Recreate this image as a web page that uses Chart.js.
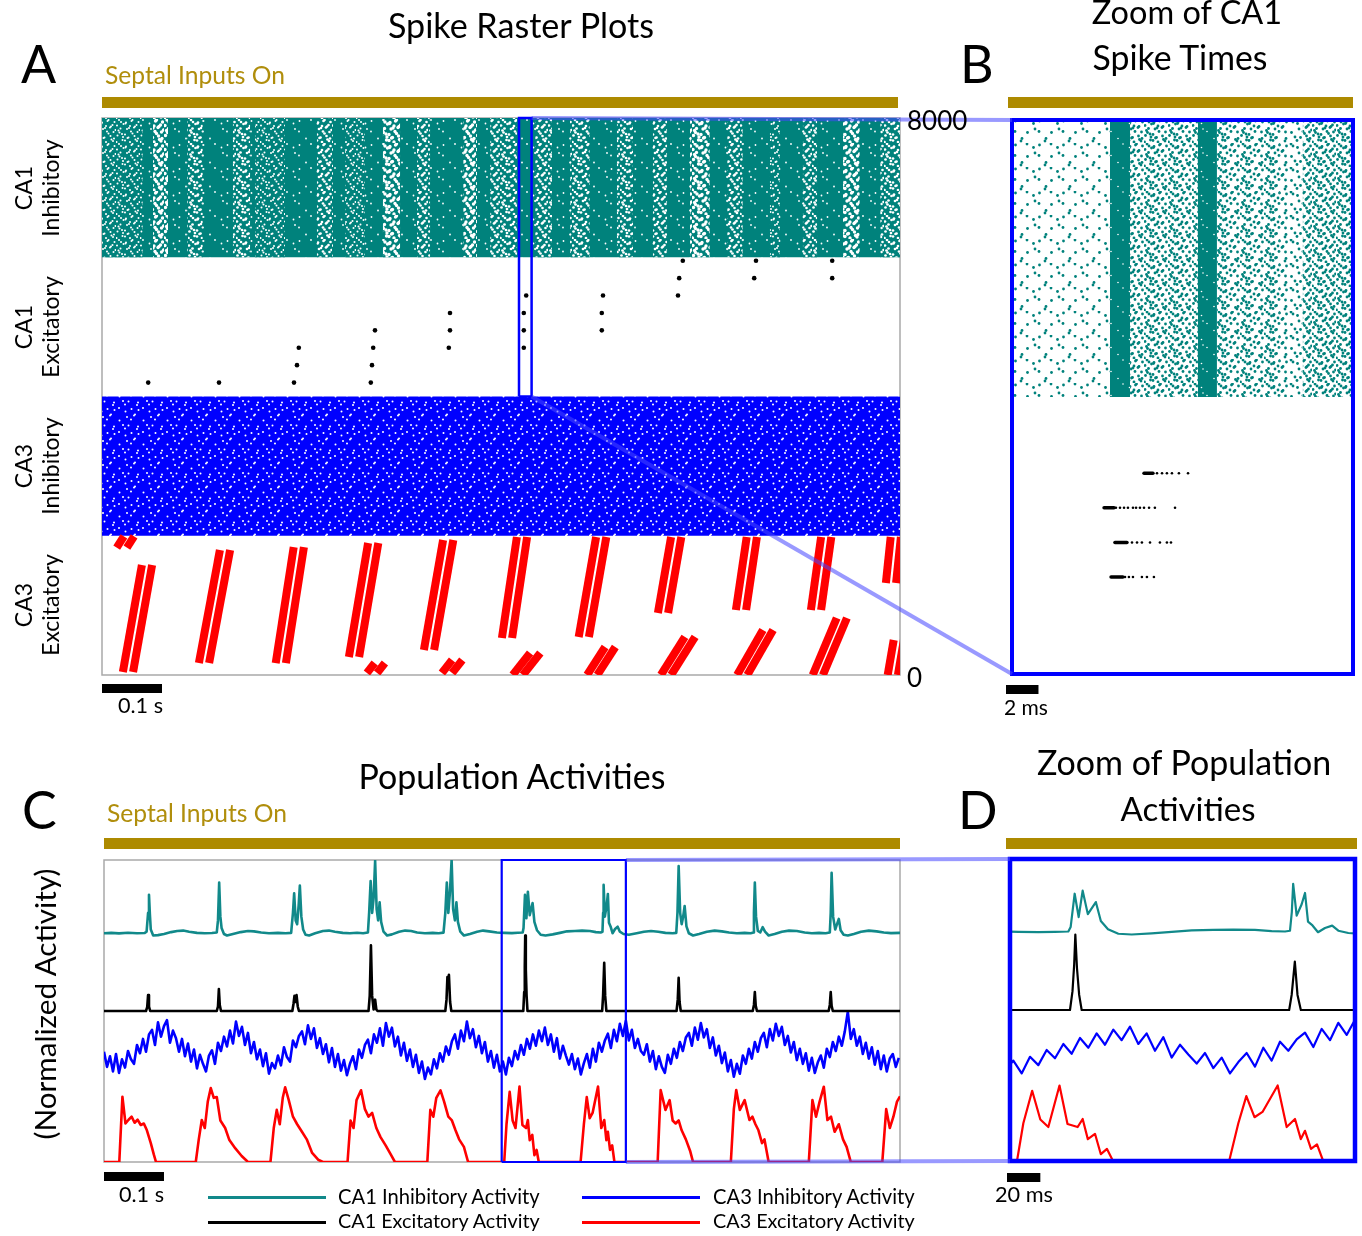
<!DOCTYPE html>
<html>
<head>
<meta charset="utf-8">
<title>Spike Raster Plots and Population Activities</title>
<script src="https://cdn.jsdelivr.net/npm/chart.js@4.4.1/dist/chart.umd.min.js"></script>
<style>
html,body{margin:0;padding:0;background:#fff;}
#page{position:relative;width:1362px;height:1236px;overflow:hidden;font-family:Lato,"Open Sans",sans-serif;}
#page canvas{position:absolute;}
.t{position:absolute;white-space:nowrap;font-family:Lato,"Open Sans",sans-serif;}
</style>
</head>
<body>
<div id="page"></div>
<script>
// ================= DATA =================
// ---- Panel A : spike raster (time in s, neuron index) ----
const rasterTimeRange = [0, 1.33];
const rasterNeuronRange = [0, 8000];
const rasterTickValues = [0, 8000];
const groupNames = [['CA3','Excitatory'],['CA3','Inhibitory'],['CA1','Excitatory'],['CA1','Inhibitory']];
const groupBounds = [0, 2000, 4000, 6000, 8000];

// CA1 inhibitory: dense firing, with sparser (speckled) stripes
const ca1InhSparseStart = [0, .085, .142, .218, .255, .358, .405, .468, .525, .602, .647, .722, .780, .858, .918, .980, 1.042, 1.113, 1.168, 1.235, 1.297];
const ca1InhSparseEnd   = [.068, .110, .168, .247, .305, .385, .438, .497, .547, .625, .692, .750, .813, .885, .942, 1.013, 1.068, 1.130, 1.192, 1.263, 1.33];
const ca1InhSparseLevel = [.2, .55, .35, .35, .2, .35, .2, .55, .35, .55, .35, .35, .35, .35, .35, .55, .35, .2, .35, .55, .35];

// CA1 excitatory spikes (time s, neuron index)
const ca1ExcSpikeT = [.077, .195, .32, .325, .328, .448, .45, .452, .455, .578, .58, .58, .703, .703, .703, .707, .833, .833, .835, .96, .962, .968, 1.087, 1.09, 1.217, 1.217];
const ca1ExcSpikeN = [4200, 4200, 4200, 4450, 4700, 4200, 4450, 4700, 4950, 4700, 4950, 5200, 4700, 4950, 5200, 5450, 4950, 5200, 5450, 5450, 5700, 5950, 5700, 5950, 5700, 5950];

// CA3 excitatory sequential bursts: band from (T0,N0) to (T1,N1)
const ca3ExcBandT0 = [.0433, .17, .298, .42, .545, .675, .803, .935, 1.065, 1.19, 1.315, .45, .575, .693, .817, .94, 1.067, 1.193, 1.318, .033];
const ca3ExcBandN0 = [43, 172, 172, 259, 359, 531, 546, 890, 934, 934, 1321, 29, 29, 0, 0, 0, 0, 0, 0, 1830];
const ca3ExcBandT1 = [.075, .205, .328, .452, .577, .70, .832, .957, 1.083, 1.207, 1.323, .463, .592, .722, .847, .98, 1.11, 1.233, 1.328, .045];
const ca3ExcBandN1 = [1580, 1795, 1838, 1896, 1939, 1982, 1982, 1982, 1982, 1982, 1982, 172, 215, 316, 402, 546, 646, 819, 503, 1990];

// ---- Panel B : zoom of CA1 spike times (ms from zoom start) ----
const bZoomStart = 0.695;      // s
const bZoomLength = 21;        // ms
const bNeuronRange = [4000, 8000];
const bInhStart   = [0, 6.03, 7.27, 11.45, 12.62, 16.5, 17.9];
const bInhEnd     = [6.03, 7.27, 11.45, 12.62, 16.5, 17.9, 21];
const bInhDensity = [0.12, 0.95, 0.5, 0.95, 0.45, 0.25, 0.55];
const bExcRowN = [5450, 5200, 4950, 4700];
const bExcBurstStart = [8.13, 5.67, 6.34, 6.1];
const bExcBurstEnd   = [8.68, 6.28, 7.08, 6.83];
const bExcTrail = [
  [8.93, 9.24, 9.54, 9.85, 10.28, 10.84],
  [6.4, 6.65, 6.9, 7.14, 7.45, 7.64, 7.88, 8.13, 8.44, 8.8, 10.04],
  [7.39, 7.7, 8.0, 8.5, 9.11, 9.54, 9.79],
  [6.96, 7.2, 7.45, 8.0, 8.31, 8.74]
];

// ---- Panels C / D : normalized population activity ----
const activityTimeRange = [0, 1.327];
const dZoomRange = [0.663, 0.870];
const seriesNames = ['CA1 Inhibitory Activity', 'CA1 Excitatory Activity', 'CA3 Inhibitory Activity', 'CA3 Excitatory Activity'];
const seriesOffsets = [3, 2, 1, 0];

const ca1Inh = [
[0,.03],[.012,.035],[.025,.028],[.04,.036],[.055,.03],[.068,.034],
[.071,.05],[.0735,.3],[.075,.54],[.0765,.28],[.078,.08],[.082,0],[.09,.005],[.1,.02],[.112,.045],[.122,.06],[.132,.065],[.142,.05],[.155,.035],[.168,.03],[.18,.034],[.188,.04],
[.19,.2],[.192,.7],[.194,.25],[.196,.1],[.2,.02],[.205,0],[.215,.02],[.228,.045],[.24,.06],[.25,.055],[.262,.04],[.275,.03],[.29,.035],[.303,.03],[.312,.035],
[.315,.3],[.317,.56],[.3195,.2],[.322,.15],[.3245,.4],[.3265,.66],[.329,.25],[.332,.08],[.336,.01],[.342,0],[.352,.03],[.365,.06],[.375,.065],[.385,.05],[.398,.035],[.41,.03],[.422,.036],[.432,.03],[.44,.04],
[.442,.3],[.4445,.72],[.447,.3],[.4495,.5],[.452,.99],[.4545,.35],[.457,.2],[.4595,.44],[.462,.18],[.466,.05],[.472,0],[.48,.015],[.492,.05],[.502,.065],[.512,.06],[.522,.04],[.535,.03],[.548,.035],[.558,.03],[.566,.038],
[.569,.3],[.5715,.7],[.574,.3],[.5765,.55],[.5795,1.0],[.582,.35],[.585,.2],[.5875,.44],[.59,.18],[.594,.05],[.6,0],[.61,.02],[.622,.05],[.632,.065],[.642,.055],[.655,.04],[.668,.035],[.68,.032],[.69,.036],[.698,.04],
[.6994,.1],[.7018,.54],[.7042,.23],[.7066,.58],[.7097,.27],[.7145,.43],[.7175,.18],[.7218,.07],[.728,.01],[.736,0],[.748,.015],[.76,.035],[.772,.055],[.785,.06],[.797,.065],[.81,.06],[.82,.045],[.828,.04],[.831,.05],
[.8321,.3],[.8329,.67],[.835,.25],[.838,.4],[.84,.55],[.8418,.17],[.8445,.12],[.8478,.03],[.852,.086],[.8563,.117],[.86,.05],[.866,.02],[.875,.01],[.888,.03],[.9,.05],[.912,.06],[.924,.05],[.936,.035],[.948,.03],[.954,.035],
[.956,.3],[.958,.92],[.9605,.3],[.963,.15],[.9655,.25],[.968,.39],[.971,.12],[.975,.03],[.982,0],[.992,.02],[1.005,.05],[1.018,.065],[1.03,.055],[1.042,.04],[1.055,.03],[1.068,.035],[1.078,.03],[1.083,.04],
[1.0835,.3],[1.085,.7],[1.087,.25],[1.09,.06],[1.094,.04],[1.098,.11],[1.102,.05],[1.108,0],[1.118,.02],[1.13,.05],[1.142,.065],[1.155,.06],[1.168,.04],[1.18,.03],[1.192,.035],[1.203,.03],[1.21,.04],
[1.2115,.3],[1.213,.83],[1.2155,.25],[1.219,.08],[1.222,.15],[1.225,.22],[1.228,.07],[1.233,.01],[1.24,0],[1.25,.02],[1.262,.05],[1.275,.065],[1.288,.055],[1.3,.04],[1.312,.032],[1.327,.035]
];

const ca1Exc = [
[0,0],[.07,0],[.072,.05],[.0735,.21],[.075,.06],[.077,0],
[.188,0],[.19,.06],[.1915,.29],[.193,.08],[.195,0],
[.314,0],[.316,.1],[.3175,.2],[.3195,.12],[.321,.21],[.323,.06],[.325,0],
[.441,0],[.443,.2],[.445,.87],[.447,.2],[.4495,.02],[.452,.15],[.454,.02],[.456,0],
[.569,0],[.571,.15],[.5725,.45],[.5735,.38],[.575,.48],[.577,.12],[.579,0],
[.699,0],[.7005,.25],[.7015,.6],[.7022,1.0],[.7032,.55],[.7045,.2],[.706,0],
[.8305,0],[.832,.2],[.8339,.64],[.8355,.2],[.8375,0],
[.9545,0],[.9565,.15],[.958,.44],[.9595,.12],[.9615,0],
[1.0815,0],[1.0835,.08],[1.085,.25],[1.0865,.07],[1.0885,0],
[1.208,0],[1.21,.08],[1.2115,.25],[1.213,.07],[1.215,0],
[1.327,0]
];

// CA3 inhibitory activity sampled every 5 ms (values x100)
const ca3InhDt = 0.005;
const ca3InhVals = [
46,26,40,20,43,18,36,
25,47,36,30,55,44,63,46,69,75,55,85,66,80,
88,58,74,64,46,63,40,57,33,49,24,42,30,
20,41,48,30,58,47,66,53,74,57,86,67,
79,55,71,44,59,36,49,27,44,17,31,
24,41,28,52,39,33,61,52,67,73,56,81,
63,77,51,64,43,56,32,51,26,43,21,35,15,30,
40,23,49,38,55,62,44,69,58,77,54,84,
66,78,53,66,41,58,34,49,26,42,18,33,10,25,
16,36,24,44,33,53,42,60,69,50,74,60,
86,64,76,52,67,44,59,33,47,25,42,20,33,
16,38,27,47,36,55,42,63,50,69,54,74,60,
78,55,69,46,64,37,54,41,29,43,23,37,16,31,
43,25,50,33,58,46,61,70,51,75,60,83,67,
87,61,75,51,63,47,42,56,33,47,23,40,26,
18,42,30,50,38,59,47,65,71,54,78,62,84,
65,76,51,65,41,54,31,45,20,35,13,
30,17,41,30,50,37,59,46,64,71,52,76,61,83,
67,79,55,67,45,59,35,50,30,44,21,38,18,32,
41,25,50,39,59,47,66,54,73,99,
63,76,54,66,43,58,37,52,29,47,23,41,20,37,43,26,38
];

const ca3Exc = [
[0,0],[.0255,0],[.0307,.865],[.0358,.51],[.041,.56],[.046,.6],[.051,.52],[.056,.56],[.0613,.49],[.0664,.51],[.0715,.42],[.078,.25],[.083,.1],[.0867,0],
[.153,0],[.158,.3],[.163,.556],[.168,.45],[.173,.8],[.178,.98],[.183,.85],[.188,.86],[.194,.55],[.202,.45],[.209,.29],[.219,.18],[.2295,.08],[.24,0],
[.2775,0],[.283,.45],[.288,.69],[.293,.5],[.298,.85],[.302,.99],[.308,.82],[.315,.6],[.322,.5],[.33,.4],[.338,.3],[.347,.12],[.357,.03],[.365,0],
[.406,0],[.411,.55],[.416,.45],[.421,.82],[.4285,.95],[.435,.7],[.441,.6],[.447,.65],[.454,.45],[.461,.33],[.4695,.22],[.478,.1],[.485,0],
[.539,0],[.544,.69],[.549,.6],[.554,.85],[.561,.95],[.567,.8],[.574,.6],[.58,.55],[.586,.42],[.592,.3],[.6,.2],[.607,0],
[.6672,0],[.671,.5],[.6763,.93],[.6812,.55],[.686,.45],[.6927,1.0],[.6975,.49],[.7036,.45],[.7066,.556],[.7097,.29],[.714,.36],[.7175,.09],[.7212,.16],[.7248,0],
[.7945,0],[.8,.5],[.8048,.86],[.8097,.58],[.8145,.65],[.8236,1.0],[.829,.45],[.834,.556],[.8375,.29],[.84,.4],[.8436,.16],[.8472,.22],[.8509,0],
[.923,0],[.928,.954],[.936,.69],[.943,.82],[.948,.55],[.953,.51],[.958,.55],[.963,.42],[.97,.3],[.977,.15],[.982,0],
[1.045,0],[1.05,.7],[1.054,.954],[1.06,.69],[1.068,.82],[1.076,.556],[1.081,.6],[1.086,.5],[1.091,.42],[1.097,.25],[1.101,.3],[1.108,0],
[1.175,0],[1.181,.82],[1.187,.6],[1.193,.8],[1.2,.997],[1.206,.556],[1.212,.6],[1.218,.4],[1.225,.5],[1.232,.3],[1.238,.2],[1.245,0],
[1.2975,0],[1.304,.7],[1.31,.45],[1.316,.6],[1.322,.8],[1.327,.87]
];

// ================= STYLE =================
const TEAL_RASTER = 'rgb(0,130,124)';
const TEAL_LINE = '#11898a';
const GOLD = '#ad8a00';
const GOLD_TEXT = '#b08e0c';
const FRAME_GRAY = '#a9a9a9';
const ZOOM_BLUE = '#0000ff';
const LINK_BLUE = 'rgba(70,70,255,0.55)';
const SUB_BAND = 0.0085; // half spacing of the two sub-bands in each CA3 burst (s)
// texture: 24x24 tile, 6x6 jittered cells (style only, gives raster fills a speckled look)
const TILE = 24;
const JITTER = [
  [1,-1],[-1,1],[0,1.5],[1.5,0],[-1.5,-1],[0.5,1],
  [-1,0.5],[1.5,-1],[-0.5,-1.5],[0,1],[1,1.5],[-1.5,0],
  [0.5,1.5],[-1.5,-0.5],[1,0],[-1,-1],[0,-1.5],[1.5,1],
  [1.5,-0.5],[0,1],[-1,1.5],[1,-1.5],[-1.5,0.5],[-0.5,-1],
  [-0.5,-1.5],[1,0],[1.5,1],[-1.5,0.5],[0.5,-1],[0,1.5],
  [-1.5,1],[0.5,-1],[-1,-0.5],[0,1],[1.5,-1.5],[-1,0]];
const CELL_ORDER = [0,21,8,29,14,3,35,18,25,10,32,5,27,16,1,23,12,30,7,19,34,2,26,13,9,31,20,4,24,15,33,6,28,11,22,17];

const page = document.getElementById('page');
const mctx = document.createElement('canvas').getContext('2d');

function makeCanvas(left, top, w, h) {
  const c = document.createElement('canvas');
  c.width = w; c.height = h;
  c.style.left = left + 'px'; c.style.top = top + 'px';
  c.style.width = w + 'px'; c.style.height = h + 'px';
  page.appendChild(c);
  return c;
}

function speckle(canvas, bg, dot, count, r) {
  const tile = document.createElement('canvas');
  tile.width = TILE; tile.height = TILE;
  const x = tile.getContext('2d');
  if (bg) { x.fillStyle = bg; x.fillRect(0, 0, TILE, TILE); }
  x.fillStyle = dot;
  for (let k = 0; k < Math.min(count, CELL_ORDER.length); k++) {
    const c = CELL_ORDER[k];
    const cx = (c % 6) * 4 + 2 + JITTER[c][0];
    const cy = Math.floor(c / 6) * 4 + 2 + JITTER[c][1];
    x.beginPath(); x.arc(cx, cy, r, 0, Math.PI * 2); x.fill();
  }
  return canvas.getContext('2d').createPattern(tile, 'repeat');
}

function addText(str, o) {
  let size = o.size;
  mctx.font = size + 'px Lato';
  if (o.w) { size = size * o.w / mctx.measureText(str).width; mctx.font = size + 'px Lato'; }
  const m = mctx.measureText(str);
  const asc = m.fontBoundingBoxAscent || 0.987 * size;
  const desc = m.fontBoundingBoxDescent || 0.213 * size;
  const b = (size - asc - desc) / 2 + asc;
  const el = document.createElement('div');
  el.className = 't';
  el.textContent = str;
  el.style.fontSize = size + 'px';
  el.style.lineHeight = size + 'px';
  el.style.height = size + 'px';
  el.style.color = o.color || '#000';
  if (o.rot) {
    const d = b - size / 2;
    el.style.left = (o.x - d) + 'px';
    el.style.top = o.cy + 'px';
    el.style.transform = 'translate(-50%,-50%) rotate(-90deg)';
  } else {
    el.style.left = o.x + 'px';
    el.style.top = (o.base - b) + 'px';
    if (o.align === 'center') el.style.transform = 'translateX(-50%)';
  }
  page.appendChild(el);
}

function strokeFrame(chart, o) {
  const {ctx, chartArea: a} = chart;
  ctx.save();
  ctx.strokeStyle = o.frameColor; ctx.lineWidth = o.frameWidth;
  ctx.strokeRect(a.left, a.top, a.right - a.left, a.bottom - a.top);
  ctx.restore();
}

const decor = {
  id: 'decor',
  beforeDatasetsDraw(chart, args, o) { if (o.frameColor && !o.frameTop) strokeFrame(chart, o); },
  afterDatasetsDraw(chart, args, o) {
    if (o.frameColor && o.frameTop) strokeFrame(chart, o);
    const {ctx, chartArea: a} = chart;
    const x = chart.scales.x;
    ctx.save();
    if (o.gold) {
      ctx.fillStyle = GOLD;
      const l = a.left - o.gold.l, r = a.right + o.gold.r;
      ctx.fillRect(l, a.top - o.gold.gap - o.gold.h, r - l, o.gold.h);
    }
    if (o.bar) {
      const x0 = x.getPixelForValue(x.min) + o.bar.dx;
      const len = x.getPixelForValue(x.min + o.bar.len) - x.getPixelForValue(x.min);
      ctx.fillStyle = '#000';
      ctx.fillRect(x0, a.bottom + o.bar.gap, len, o.bar.h);
    }
    ctx.restore();
  }
};

function makeChart(canvas, pad, xr, yr, datasets, decorOpts) {
  return new Chart(canvas, {
    type: 'line',
    data: { datasets },
    options: {
      responsive: false, animation: false, events: [],
      layout: { padding: pad },
      elements: { point: { radius: 0 }, line: { tension: 0 } },
      plugins: { legend: { display: false }, tooltip: { enabled: false }, decor: decorOpts },
      scales: {
        x: { type: 'linear', min: xr[0], max: xr[1], display: false },
        y: { type: 'linear', min: yr[0], max: yr[1], display: false }
      }
    },
    plugins: [decor]
  });
}

function block(x0, x1, yTop, yBottom, color, order) {
  return { data: [{x: x0, y: yTop}, {x: x1, y: yTop}], fill: {value: yBottom},
           backgroundColor: color, borderColor: 'rgba(0,0,0,0)', borderWidth: 1, pointRadius: 0, order };
}

// ================= PANEL A =================
const cA = makeCanvas(92, 95, 818, 605);
const aZoom = [bZoomStart, bZoomStart + bZoomLength / 1000];
const dsA = [];
dsA.push({ data: [{x:aZoom[0],y:groupBounds[2]},{x:aZoom[0],y:groupBounds[4]},{x:aZoom[1],y:groupBounds[4]},{x:aZoom[1],y:groupBounds[2]},{x:aZoom[0],y:groupBounds[2]}],
  borderColor: ZOOM_BLUE, borderWidth: 2.5, pointRadius: 0, fill: false, clip: false, order: 0 });
dsA.push({ data: ca1ExcSpikeT.map((t, i) => ({x: t, y: ca1ExcSpikeN[i]})), showLine: false,
  pointRadius: 2.3, pointBackgroundColor: '#000', pointBorderWidth: 0, order: 1 });
ca3ExcBandT0.forEach((t0, i) => {
  [-1, 1].forEach(s => {
    dsA.push({ data: [{x: t0 + s * SUB_BAND, y: ca3ExcBandN0[i]}, {x: ca3ExcBandT1[i] + s * SUB_BAND, y: ca3ExcBandN1[i]}],
      borderColor: '#ff0000', borderWidth: 8, borderCapStyle: 'butt', pointRadius: 0, fill: false, order: 2 });
  });
});
dsA.push(block(rasterTimeRange[0], rasterTimeRange[1], groupBounds[2], groupBounds[1], speckle(cA, '#0000ff', '#ffffff', 14, 1.0), 3));
ca1InhSparseStart.forEach((s, i) => dsA.push(block(s, ca1InhSparseEnd[i], groupBounds[4], groupBounds[3],
  speckle(cA, TEAL_RASTER, '#ffffff', 36, Math.sqrt(ca1InhSparseLevel[i] * TILE * TILE / (36 * Math.PI))), 4)));
dsA.push(block(rasterTimeRange[0], rasterTimeRange[1], groupBounds[4], groupBounds[3], speckle(cA, TEAL_RASTER, '#ffffff', 6, 0.9), 5));

const chA = makeChart(cA, {left: 10, top: 23, right: 10, bottom: 25}, rasterTimeRange, rasterNeuronRange, dsA,
  { frameColor: FRAME_GRAY, frameWidth: 1.5, frameTop: false,
    gold: {l: 0, r: -2, gap: 10, h: 11}, bar: {len: 0.1, dx: 0, gap: 9, h: 9} });

// ================= PANEL B =================
const cB = makeCanvas(1000, 95, 365, 609);
const dsB = [];
const trailPts = [];
bExcTrail.forEach((row, r) => row.forEach(t => trailPts.push({x: t, y: bExcRowN[r]})));
dsB.push({ data: trailPts, showLine: false, pointRadius: 1.3, pointBackgroundColor: '#000', pointBorderWidth: 0, order: 0 });
bExcRowN.forEach((n, r) => dsB.push({ data: [{x: bExcBurstStart[r], y: n}, {x: bExcBurstEnd[r], y: n}],
  borderColor: '#000', borderWidth: 3.5, borderCapStyle: 'round', pointRadius: 0, fill: false, order: 1 }));
bInhStart.forEach((s, i) => {
  const d = bInhDensity[i];
  const fillStyle = d > 0.9 ? speckle(cB, TEAL_RASTER, '#ffffff', 5, 0.8)
                            : speckle(cB, null, TEAL_RASTER, Math.round(d / 0.55 * 36), 1.4);
  dsB.push(block(s, bInhEnd[i], groupBounds[4], groupBounds[3], fillStyle, 2));
});

const chB = makeChart(cB, {left: 12, top: 25, right: 12, bottom: 30}, [0, bZoomLength], bNeuronRange, dsB,
  { frameColor: ZOOM_BLUE, frameWidth: 4, frameTop: true,
    gold: {l: 4, r: 0, gap: 12, h: 11}, bar: {len: 2, dx: -6, gap: 11, h: 9} });

// ================= PANELS C & D =================
const ca3InhPairs = ca3InhVals.map((v, i) => [i * ca3InhDt, v / 100]);
const seriesData = [ca1Inh, ca1Exc, ca3InhPairs, ca3Exc];
const seriesColors = [TEAL_LINE, '#000000', '#0000ff', '#ff0000'];

function traceSets(width) {
  return seriesData.map((pairs, k) => ({
    data: pairs.map(p => ({x: p[0], y: p[1] + seriesOffsets[k]})),
    borderColor: seriesColors[k], borderWidth: width, borderJoinStyle: 'round',
    pointRadius: 0, fill: false, order: k + 1 }));
}

const dsC = traceSets(2.6);
dsC.push({ data: [{x:dZoomRange[0],y:0},{x:dZoomRange[0],y:4},{x:dZoomRange[1],y:4},{x:dZoomRange[1],y:0},{x:dZoomRange[0],y:0}],
  borderColor: ZOOM_BLUE, borderWidth: 2.2, pointRadius: 0, fill: false, clip: false, order: 0 });
const cC = makeCanvas(94, 832, 816, 356);
const chC = makeChart(cC, {left: 10, top: 28, right: 10, bottom: 26}, activityTimeRange, [0, 4], dsC,
  { frameColor: FRAME_GRAY, frameWidth: 1.5, frameTop: false,
    gold: {l: 0, r: 0, gap: 11, h: 11}, bar: {len: 0.1, dx: 0, gap: 10, h: 9} });

const dsD = traceSets(2.2);
const cD = makeCanvas(998, 832, 369, 356);
const chD = makeChart(cD, {left: 12, top: 27, right: 12, bottom: 27}, dZoomRange, [0, 4], dsD,
  { frameColor: ZOOM_BLUE, frameWidth: 4.5, frameTop: true,
    gold: {l: 4, r: 2, gap: 10, h: 11}, bar: {len: 0.02, dx: -3, gap: 12, h: 9} });

// ================= LINKS (zoom connectors) =================
function pg(chart, px, py) { const r = chart.canvas.getBoundingClientRect(); return [r.left + px, r.top + py]; }
const ov = makeCanvas(0, 0, 1362, 1236);
ov.style.pointerEvents = 'none';
const g = ov.getContext('2d');
g.strokeStyle = LINK_BLUE; g.lineWidth = 4;
function link(p, q) { g.beginPath(); g.moveTo(p[0], p[1]); g.lineTo(q[0], q[1]); g.stroke(); }
{
  const xA = chA.scales.x.getPixelForValue(aZoom[1]);
  link(pg(chA, xA, chA.scales.y.getPixelForValue(groupBounds[4])), pg(chB, chB.chartArea.left, chB.chartArea.top));
  link(pg(chA, xA, chA.scales.y.getPixelForValue(groupBounds[2])), pg(chB, chB.chartArea.left, chB.chartArea.bottom));
  const xC = chC.scales.x.getPixelForValue(dZoomRange[1]);
  link(pg(chC, xC, chC.scales.y.getPixelForValue(4)), pg(chD, chD.chartArea.left, chD.chartArea.top));
  link(pg(chC, xC, chC.scales.y.getPixelForValue(0)), pg(chD, chD.chartArea.left, chD.chartArea.bottom));
}

// ================= TEXT =================
addText('Spike Raster Plots', {x: 521, base: 39, size: 30, w: 267, align: 'center'});
addText('A', {x: 21, base: 83, size: 52});
addText('Septal Inputs On', {x: 105, base: 85, size: 22, w: 180, color: GOLD_TEXT});
addText('B', {x: 960, base: 83, size: 52});
addText('Zoom of CA1', {x: 1187, base: 25, size: 30, w: 191, align: 'center'});
addText('Spike Times', {x: 1180, base: 71, size: 30, w: 176, align: 'center'});

rasterTickValues.forEach(v => {
  const p = pg(chA, chA.chartArea.right + 7, chA.scales.y.getPixelForValue(v));
  addText(String(v), {x: p[0], base: p[1] + 12, size: 26});
});
groupNames.forEach((nm, i) => {
  const cy = pg(chA, 0, chA.scales.y.getPixelForValue((groupBounds[i] + groupBounds[i + 1]) / 2))[1];
  addText(nm[0], {rot: true, x: 32, cy, size: 23});
  addText(nm[1], {rot: true, x: 59, cy, size: 23});
});
addText('0.1 s', {x: 118, base: 714, size: 19, w: 45});
addText('2 ms', {x: 1004, base: 715, size: 19, w: 44});

addText('Population Activities', {x: 512, base: 790, size: 30, w: 308, align: 'center'});
addText('C', {x: 22, base: 829, size: 52});
addText('Septal Inputs On', {x: 107, base: 823, size: 22, w: 180, color: GOLD_TEXT});
addText('D', {x: 958, base: 829, size: 52});
addText('Zoom of Population', {x: 1184, base: 775, size: 30, w: 295, align: 'center'});
addText('Activities', {x: 1188, base: 822, size: 30, w: 135, align: 'center'});
addText('(Normalized Activity)', {rot: true, x: 56, cy: 1004, size: 26, w: 272});
addText('0.1 s', {x: 119, base: 1203, size: 19, w: 45});
addText('20 ms', {x: 995, base: 1203, size: 19, w: 58});

const legendCols = [[208, 338], [208, 338], [582, 713], [582, 713]];
const legendRows = [1197, 1222, 1197, 1222];
seriesNames.forEach((nm, k) => {
  const ln = document.createElement('div');
  ln.style.cssText = 'position:absolute;height:3px;background:' + seriesColors[k] + ';left:' + legendCols[k][0] + 'px;top:' + (legendRows[k] - 1.5) + 'px;width:118px;';
  page.appendChild(ln);
  addText(nm, {x: legendCols[k][1], base: legendRows[k] + 7, size: 18, w: 203});
});
</script>
</body>
</html>
